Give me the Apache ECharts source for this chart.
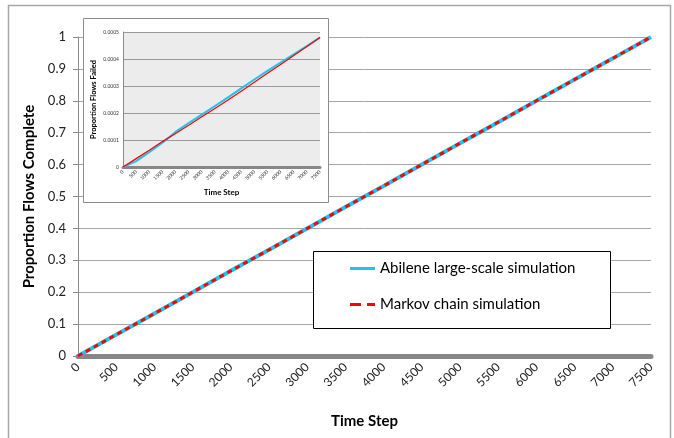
<!DOCTYPE html>
<html><head><meta charset="utf-8">
<script src="https://cdn.jsdelivr.net/npm/echarts@6/dist/echarts.min.js"></script>
<style>html,body{margin:0;padding:0;background:#fff}#c{width:674px;height:438px}</style>
</head><body><div id="c"></div>
<script>
const timeSteps = [0,500,1000,1500,2000,2500,3000,3500,4000,4500,5000,5500,6000,6500,7000,7500];
const abileneComplete = [0,0.067,0.133,0.2,0.267,0.333,0.4,0.467,0.533,0.6,0.667,0.733,0.8,0.867,0.933,1];
const markovComplete  = [0,0.067,0.133,0.2,0.267,0.333,0.4,0.467,0.533,0.6,0.667,0.733,0.8,0.867,0.933,1];
const abileneFailed = [0,0.000022,0.000055,0.000090,0.000130,0.000163,0.000194,0.000226,0.000258,0.000291,0.000324,0.000356,0.000387,0.000417,0.000448,0.000480];
const markovFailed  = [0,0.000031,0.000062,0.000094,0.000124,0.000155,0.000186,0.000217,0.000248,0.000281,0.000314,0.000347,0.000380,0.000413,0.000446,0.000480];
const seriesNames = ['Abilene large-scale simulation','Markov chain simulation'];
const mainTitleX = 'Time Step', mainTitleY = 'Proportion Flows Complete', insetTitleY = 'Proportion Flows Failed';

const pairs = (xs, ys) => xs.map((x,i)=>[x, ys[i]]);
const FONT = 'Lato';
const CYAN = '#1cc4ee', RED = '#ff0000';
const chart = echarts.init(document.getElementById('c'), null, {renderer:'canvas'});
chart.setOption({
  animation:false,
  backgroundColor:'#fff',
  textStyle:{fontFamily:FONT},
  graphic:[
    {type:'rect', z:0, shape:{x:8.5,y:5.5,width:662,height:445}, style:{fill:'none',stroke:'#a6a6a6',lineWidth:1.5}},
    {type:'rect', z:3, shape:{x:83.5,y:18.5,width:245,height:184}, style:{fill:'#fff',stroke:'#8c8c8c',lineWidth:1}},
    {type:'rect', z:3, shape:{x:313.5,y:251.5,width:297,height:77}, style:{fill:'#fff',stroke:'#000',lineWidth:1}}
  ],
  legend:{
    z:6, orient:'vertical', left:350, top:261, itemWidth:25, itemHeight:3, itemGap:21,
    symbolKeepAspect:false, padding:0,
    data:[
      {name:seriesNames[0], icon:'rect', itemStyle:{color:CYAN}},
      {name:seriesNames[1], icon:'path://M0,0h11v3h-11z M17,0h8v3h-8z', itemStyle:{color:RED}}
    ],
    textStyle:{fontFamily:FONT,fontSize:15,color:'#000'}
  },
  grid:[
    {left:78, right:23, top:37, bottom:82, z:0},
    {left:123, right:354, top:32, bottom:271, z:4, show:true, backgroundColor:'#ececec', borderWidth:0}
  ],
  xAxis:[
    {gridIndex:0, type:'value', min:0, max:7500, interval:500, z:0,
     name:mainTitleX, nameLocation:'middle', nameGap:58,
     nameTextStyle:{fontFamily:FONT,fontSize:15,fontWeight:'bold',color:'#000'},
     axisLine:{show:true,lineStyle:{color:'#878787',width:5}}, axisTick:{show:false},
     splitLine:{show:false},
     axisLabel:{rotate:45, fontSize:12, color:'#222', margin:9, formatter:v=>String(v)}},
    {gridIndex:1, type:'value', min:0, max:7500, interval:500, z:4,
     name:mainTitleX, nameLocation:'middle', nameGap:21,
     nameTextStyle:{fontFamily:FONT,fontSize:8,fontWeight:'bold',color:'#000'},
     axisLine:{show:true,lineStyle:{color:'#878787',width:3}}, axisTick:{show:false},
     splitLine:{show:false},
     axisLabel:{rotate:45, fontSize:5, color:'#333', margin:4, hideOverlap:false, formatter:v=>String(v)}}
  ],
  yAxis:[
    {gridIndex:0, type:'value', min:0, max:1, interval:0.1, z:0,
     name:mainTitleY, nameLocation:'middle', nameGap:32,
     nameTextStyle:{fontFamily:FONT,fontSize:15,fontWeight:'bold',color:'#000'},
     axisLine:{show:true,lineStyle:{color:'#8c8c8c',width:1}},
     axisTick:{show:true,length:5,lineStyle:{color:'#8c8c8c'}},
     splitLine:{show:true,lineStyle:{color:'#a6a6a6',width:1}},
     axisLabel:{fontSize:13,color:'#222',margin:12}},
    {gridIndex:1, type:'value', min:0, max:0.0005, interval:0.0001, z:4,
     name:insetTitleY, nameLocation:'middle', nameGap:25,
     nameTextStyle:{fontFamily:FONT,fontSize:7.5,fontWeight:'bold',color:'#000'},
     axisLine:{show:true,lineStyle:{color:'#8c8c8c',width:1}},
     axisTick:{show:false},
     splitLine:{show:true,lineStyle:{color:'#9a9a9a',width:1}},
     axisLabel:{fontSize:5,color:'#333',margin:4,
       formatter:v=> v===0?'0':v.toFixed(4)}}
  ],
  series:[
    {name:seriesNames[0], type:'line', xAxisIndex:0, yAxisIndex:0, z:2, symbol:'none', showSymbol:false,
     data:pairs(timeSteps, abileneComplete), itemStyle:{color:CYAN}, lineStyle:{color:CYAN,width:4}},
    {name:seriesNames[1], type:'line', xAxisIndex:0, yAxisIndex:0, z:3, symbol:'none', showSymbol:false,
     data:pairs(timeSteps, markovComplete), itemStyle:{color:RED}, lineStyle:{color:RED,width:3,type:[5,4]}},
    {name:'inset-abilene', type:'line', xAxisIndex:1, yAxisIndex:1, z:5, symbol:'none', showSymbol:false,
     data:pairs(timeSteps, abileneFailed), lineStyle:{color:CYAN,width:2}},
    {name:'inset-markov', type:'line', xAxisIndex:1, yAxisIndex:1, z:6, symbol:'none', showSymbol:false,
     data:pairs(timeSteps, markovFailed), lineStyle:{color:RED,width:1.2}}
  ]
});
</script></body></html>
